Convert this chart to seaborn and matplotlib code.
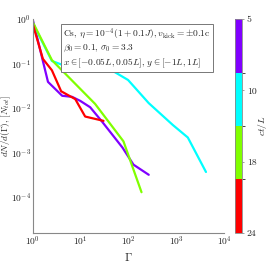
import numpy as np
import pandas as pd
import matplotlib
matplotlib.use("Agg")
import matplotlib.pyplot as plt
import seaborn as sns
from matplotlib.colors import ListedColormap, BoundaryNorm
from matplotlib.cm import ScalarMappable

# ct/L snapshots
times = ["5", "10", "18", "24"]
colors = ["#8000ff", "#00ffff", "#80ff00", "#ff0000"]

# spectra dN/dGamma
gamma_5 = [1.0, 2.07, 4.1, 6.6, 9.8, 15.8, 28.4, 75, 127, 265]
dn_5 = [0.95, 0.039, 0.019, 0.018, 0.0146, 0.0105, 0.0049, 0.0013, 5.4e-4, 3.2e-4]

gamma_10 = [1.0, 2.5, 6.6, 16.6, 41.7, 98, 265, 845, 1740, 4170]
dn_10 = [0.8, 0.115, 0.078, 0.10, 0.074, 0.043, 0.013, 0.0042, 0.0022, 3.7e-4]

gamma_18 = [1.0, 2.5, 20, 78.5, 187]
dn_18 = [0.85, 0.12, 0.0125, 0.0018, 1.3e-4]

gamma_24 = [1.0, 1.62, 2.5, 3.9, 7.7, 12.4, 30]
dn_24 = [0.76, 0.128, 0.071, 0.024, 0.016, 0.0065, 0.0052]

frames = []
for t, g, d in zip(times, [gamma_5, gamma_10, gamma_18, gamma_24],
                   [dn_5, dn_10, dn_18, dn_24]):
    frames.append(pd.DataFrame({"gamma": g, "dn": d, "t": t}))
df = pd.concat(frames, ignore_index=True)

sns.set_style("white")
plt.rcParams["font.family"] = ["serif"]
plt.rcParams["font.serif"] = ["cmr10", "DejaVu Serif"]
plt.rcParams["mathtext.fontset"] = "cm"
plt.rcParams["axes.formatter.use_mathtext"] = True
plt.rcParams["axes.unicode_minus"] = False

fig = plt.figure(figsize=(2.74, 2.62), dpi=100)
ax = fig.add_axes([0.120, 0.111, 0.698, 0.816])

sns.lineplot(
    data=df,
    x="gamma",
    y="dn",
    hue="t",
    palette=colors,
    sort=False,
    estimator=None,
    linewidth=1.6,
    legend=False,
    ax=ax
)

ax.set_xscale("log")
ax.set_yscale("log")
ax.set_xlim(1, 1e4)
ax.set_ylim(10 ** -4.8, 1)
ax.set_yticks([1e-4, 1e-3, 1e-2, 1e-1, 1])

for side in ["top", "right"]:
    ax.spines[side].set_visible(False)
for side in ["left", "bottom"]:
    ax.spines[side].set_color("#888888")
    ax.spines[side].set_linewidth(0.8)

ax.tick_params(which="both", direction="in", colors="#555555",
               labelcolor="#222222", labelsize=6.8)
ax.tick_params(which="major", length=2.5, width=0.5, pad=1.5)
ax.tick_params(which="minor", length=1.5, width=0.4)

ax.set_xlabel(r"$\Gamma$", fontsize=8.5)
ax.xaxis.set_label_coords(0.5, -0.085)
ax.set_ylabel(r"$dN/d(\Gamma)$, $[N_{tot}]$", fontsize=6.6)
ax.yaxis.set_label_coords(-0.106, 0.5)

ax.text(
    0.16, 0.965,
    "Cs, $\\eta=10^{-4}(1+0.1J), v_{\\rm kick}=\\pm0.1$c\n"
    "$\\beta_0=0.1,\\,\\sigma_0=3.3$\n"
    "$x\\in[-0.05L,0.05L],\\,y\\in[-1L,1L]$",
    transform=ax.transAxes,
    fontsize=6.8,
    linespacing=1.25,
    va="top",
    ha="left",
    bbox=dict(boxstyle="square,pad=0.25", facecolor="white",
              edgecolor="#777777", linewidth=0.7)
)

# discrete colorbar
cax = fig.add_axes([0.858, 0.111, 0.0255, 0.816])
cmap = ListedColormap(colors)
norm = BoundaryNorm([0, 0.75, 1.5, 2.25, 3], cmap.N)
sm = ScalarMappable(norm=norm, cmap=cmap)
cb = fig.colorbar(sm, cax=cax, ticks=[0, 1, 2, 3])
cb.ax.set_yticklabels(times)
cb.ax.invert_yaxis()
cb.outline.set_edgecolor("#888888")
cb.outline.set_linewidth(0.6)
cb.ax.tick_params(labelsize=7, length=1.5, width=0.4, colors="#555555",
                  labelcolor="#222222", pad=2)
cb.set_label(r"$ct/L$", fontsize=7)
cb.ax.yaxis.set_label_coords(3.0, 0.5)

fig.savefig("out.png", dpi=100)
